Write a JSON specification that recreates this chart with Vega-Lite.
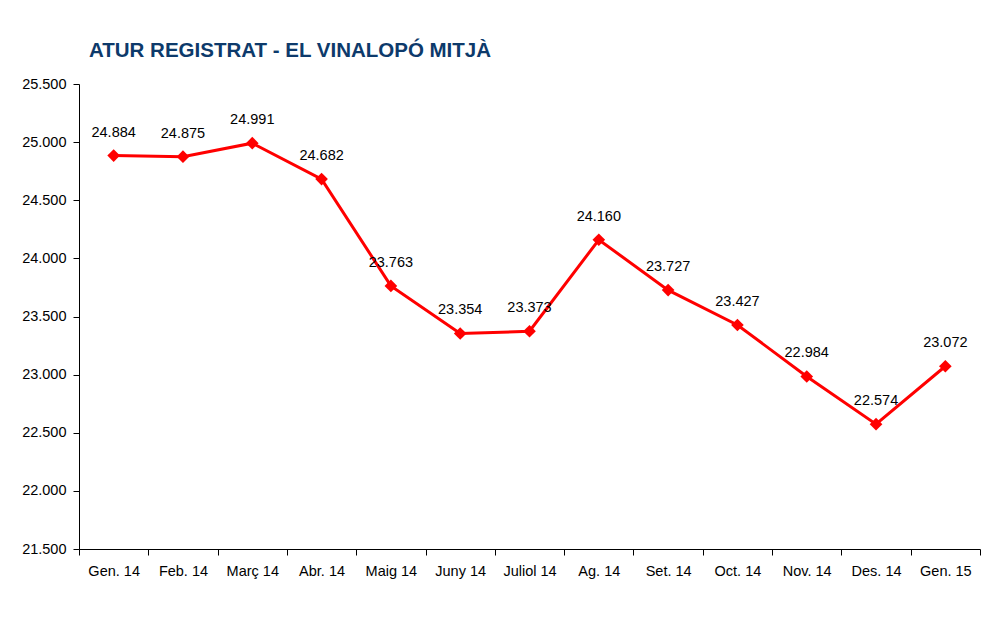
{
  "$schema": "https://vega.github.io/schema/vega-lite/v6.json",
  "width": 901,
  "height": 465,
  "autosize": {"type": "none"},
  "padding": {"left": 79, "top": 84, "right": 21, "bottom": 70},
  "background": "white",
  "title": {
    "text": "ATUR REGISTRAT - EL VINALOPÓ MITJÀ",
    "anchor": "start",
    "frame": "group",
    "dx": 10,
    "font": "Liberation Sans",
    "fontSize": 20.5,
    "fontWeight": "bold",
    "color": "#0D3A6B",
    "baseline": "alphabetic",
    "offset": -1
  },
  "data": {
    "values": [
      {"mes": "Gen. 14", "atur": 24884},
      {"mes": "Feb. 14", "atur": 24875},
      {"mes": "Març 14", "atur": 24991},
      {"mes": "Abr. 14", "atur": 24682},
      {"mes": "Maig 14", "atur": 23763},
      {"mes": "Juny 14", "atur": 23354},
      {"mes": "Juliol 14", "atur": 23373},
      {"mes": "Ag. 14", "atur": 24160},
      {"mes": "Set. 14", "atur": 23727},
      {"mes": "Oct. 14", "atur": 23427},
      {"mes": "Nov. 14", "atur": 22984},
      {"mes": "Des. 14", "atur": 22574},
      {"mes": "Gen. 15", "atur": 23072}
    ]
  },
  "encoding": {
    "x": {
      "field": "mes",
      "type": "ordinal",
      "sort": null,
      "scale": {"type": "band", "paddingInner": 0, "paddingOuter": 0},
      "axis": {
        "title": null,
        "labelAngle": 0,
        "tickBand": "extent",
        "tickSize": 6,
        "labelPadding": 9,
        "domainColor": "#000000",
        "tickColor": "#000000",
        "labelColor": "#000000",
        "labelFont": "Liberation Sans",
        "labelFontSize": 14.5,
        "grid": false
      }
    },
    "y": {
      "field": "atur",
      "type": "quantitative",
      "scale": {"domain": [21500, 25500], "zero": false, "nice": false},
      "axis": {
        "title": null,
        "values": [21500, 22000, 22500, 23000, 23500, 24000, 24500, 25000, 25500],
        "format": ",d",
        "tickSize": 6,
        "labelPadding": 7,
        "domainColor": "#000000",
        "tickColor": "#000000",
        "labelColor": "#000000",
        "labelFont": "Liberation Sans",
        "labelFontSize": 14.5,
        "grid": false
      }
    }
  },
  "layer": [
    {
      "mark": {"type": "line", "color": "#FF0000", "strokeWidth": 3}
    },
    {
      "mark": {"type": "point", "shape": "diamond", "filled": true, "color": "#FF0000", "size": 160, "opacity": 1}
    },
    {
      "mark": {"type": "text", "dy": -23, "font": "Liberation Sans", "fontSize": 14.5, "color": "#000000"},
      "encoding": {"text": {"field": "atur", "type": "quantitative", "format": ",d"}}
    }
  ],
  "config": {
    "view": {"stroke": null},
    "locale": {
      "number": {"decimal": ",", "thousands": ".", "grouping": [3], "currency": ["", " €"]}
    }
  }
}
